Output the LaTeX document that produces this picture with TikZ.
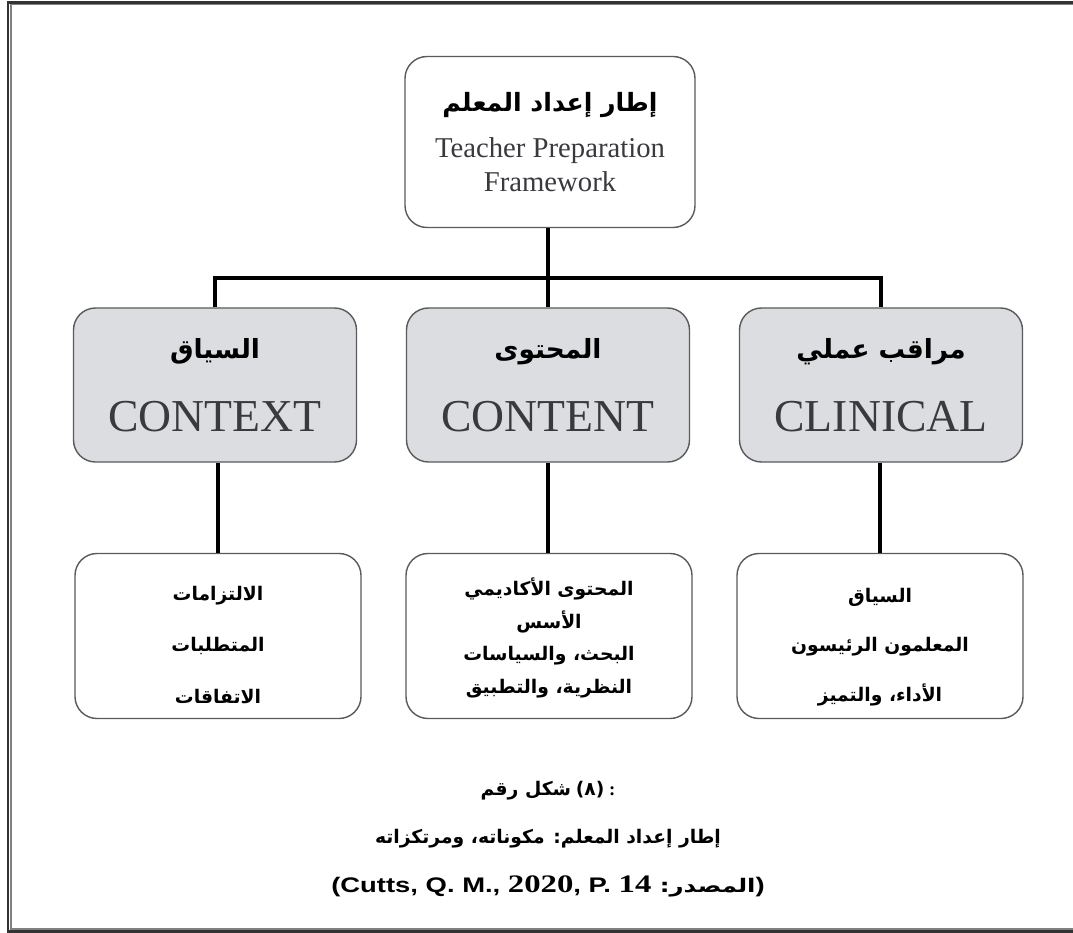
\documentclass[tikz,border=0pt]{standalone}
\usepackage{graphicx}
\usepackage{fontspec}
\setmainfont{Liberation Serif}
\newfontfamily\arabicfont[Script=Arabic]{DejaVu Sans}
\newfontfamily\latinsans{Liberation Sans}
\TeXXeTstate=1
\usetikzlibrary{positioning}
\definecolor{boxgray}{RGB}{219,221,224}
\definecolor{edgegray}{RGB}{90,90,90}
\definecolor{engtext}{RGB}{58,58,62}

\begin{document}
\begin{tikzpicture}[
    x=0.03cm, y=-0.03cm,
    whitebox/.style={draw=edgegray, line width=1.2pt, rounded corners=0.66cm, fill=white, inner sep=0pt, align=center},
    greybox/.style={whitebox, fill=boxgray, minimum width=8.49cm, minimum height=4.62cm},
    listbox/.style={whitebox, minimum width=8.58cm, minimum height=4.95cm},
    listtext/.style={align=center, inner sep=0pt, font=\arabicfont\bfseries\fontsize{16}{44}\selectfont},
    branch/.style={line width=3.4pt, black},
    midfont/.style={font=\fontsize{39}{62}\selectfont},
]
\useasboundingbox (0,0) rectangle (1073,933);
% double frame, open on the right
\begin{scope}
\clip (0,0) rectangle (1073,933);
\draw[line width=1.8pt, black!80] (8,2.5) rectangle (1100,931.5);
\draw[line width=1pt, black!50] (11,4.8) rectangle (1100,929);
\end{scope}

% top
\node[whitebox, minimum width=8.7cm, minimum height=5.13cm, font=\fontsize{24.5}{29}\selectfont] (prep) at (550,142)
  {{\arabicfont\bfseries\fontsize{21.5}{24}\selectfont\beginR إطار إعداد المعلم\endR}\\[11pt]
   {\color{engtext}Teacher Preparation}\\{\color{engtext}Framework}};

% middle row
\node[greybox, midfont] (context) at (215,385)
  {{\arabicfont\bfseries\fontsize{22.5}{24}\selectfont\beginR السياق\endR}\\{\color{engtext}CONTEXT}};
\node[greybox, midfont] (content) at (548,385)
  {{\arabicfont\bfseries\fontsize{22.5}{24}\selectfont\beginR المحتوى\endR}\\{\color{engtext}CONTENT}};
\node[greybox, midfont] (clinical) at (881,385)
  {{\arabicfont\bfseries\fontsize{22.5}{24}\selectfont\beginR مراقب عملي\endR}\\{\color{engtext}CLINICAL}};

% bottom row
\node[listbox] (contextlist) at (218,636) {};
\node[listbox] (contentlist) at (549,636) {};
\node[listbox] (clinicallist) at (880,636) {};
\node[listtext] (contextitems) at (218,645)
  {\beginR الالتزامات\endR\\\beginR المتطلبات\endR\\\beginR الاتفاقات\endR};
\node[listtext, font=\arabicfont\bfseries\fontsize{16}{28}\selectfont] (contentitems) at (549,638)
  {\beginR المحتوى الأكاديمي\endR\\\beginR الأسس\endR\\\beginR البحث، والسياسات\endR\\\beginR النظرية، والتطبيق\endR};
\node[listtext, font=\arabicfont\bfseries\fontsize{16}{42}\selectfont] (clinicalitems) at (880,647)
  {\beginR السياق\endR\\\beginR المعلمون الرئيسون\endR\\\beginR الأداء، والتميز\endR};

% connectors
\coordinate (bar) at (548,278);
\draw[branch] (bar |- prep.south) -- (bar);
\draw[branch] (context.north) |- (bar) -| (clinical.north);
\draw[branch] (bar) -- (content.north);
\draw[branch] (contextlist.north |- context.south) -- (contextlist.north);
\draw[branch] (content.south) -- (content.south |- contentlist.north);
\draw[branch] (clinicallist.north |- clinical.south) -- (clinicallist.north);

% caption
\node[align=center, font=\bfseries\fontsize{16}{41.5}\selectfont] (caption) at (548,839)
  {{\arabicfont\beginR شكل رقم\endR}\ {\arabicfont\beginR(٨)\endR}\ :\\
   {\arabicfont\beginR إطار إعداد المعلم: مكوناته، ومرتكزاته\endR}\\
   \scalebox{1.3}[1]{{\latinsans\fontsize{18}{24}\selectfont (Cutts, Q. M., }{\fontsize{21.5}{24}\selectfont 2020}{\latinsans\fontsize{18}{24}\selectfont , P. }{\fontsize{21.5}{24}\selectfont 14}{\arabicfont\ :\beginR المصدر\endR}{\latinsans\fontsize{18}{24}\selectfont )}}};
\end{tikzpicture}
\end{document}
